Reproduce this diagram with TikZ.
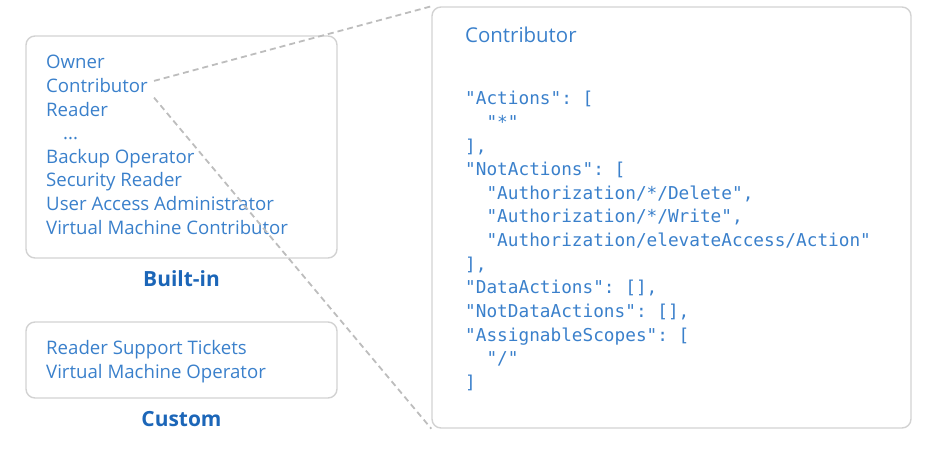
\documentclass[tikz,border=0pt]{standalone}
\usepackage{fontspec}
\setmainfont{Open Sans}
\setsansfont{Open Sans}
\setmonofont{DejaVu Sans Mono}
\usetikzlibrary{positioning}
\definecolor{roleblue}{HTML}{3A80CB}
\definecolor{labelblue}{HTML}{1C66B8}
\definecolor{framegray}{HTML}{D2D2D2}
\definecolor{dashgray}{HTML}{BDBDBD}
\newcommand{\codeindent}{\hphantom{xx}}

\begin{document}
\begin{tikzpicture}[x=1bp, y=-1bp, node distance=23.6bp,
  role/.style={anchor=base west, inner sep=0pt, text=roleblue, font=\fontsize{18.7}{22}\selectfont},
  code/.style={anchor=base west, inner sep=0pt, text=roleblue, font=\ttfamily\fontsize{17.8}{22}\selectfont},
  group box/.style={draw=framegray, line width=1.4bp, rounded corners=9bp, inner sep=0pt},
  group label/.style={anchor=base, inner sep=0pt, text=labelblue, font=\fontsize{21}{24}\selectfont\bfseries},
  link/.style={draw=dashgray, line width=1.8bp, dash pattern=on 6bp off 4bp}]
  \useasboundingbox (0,0) rectangle (927,452);

  % boxes
  \node[group box, minimum width=311bp, minimum height=222bp] (builtin) at (181.5,147) {};
  \node[group box, minimum width=311bp, minimum height=76bp] (custom) at (181.5,360) {};
  \node[group box, minimum width=479bp, minimum height=421bp] (detail) at (671.5,217.5) {};

  % built-in roles
  \node[role] (owner) at (46,69) {Owner};
  \node[below=of owner.base west, role] (contributor) {Contributor};
  \node[below=of contributor.base west, role] (reader) {Reader};
  \node[below=of reader.base west, role, xshift=17bp] (dots) {...};
  \node[below=47.2bp of reader.base west, role] (backup) {Backup Operator};
  \node[below=of backup.base west, role] (secreader) {Security Reader};
  \node[below=of secreader.base west, role] (uaa) {User Access Administrator};
  \node[below=of uaa.base west, role] (vmcontrib) {Virtual Machine Contributor};
  \node[group label] (builtinlabel) at (181.5,287) {Built-in};

  % custom roles
  \node[role] (support) at (46,355) {Reader Support Tickets};
  \node[below=of support.base west, role] (vmoperator) {Virtual Machine Operator};
  \node[group label] (customlabel) at (181.5,426) {Custom};

  % role definition
  \node[role, font=\fontsize{20.5}{24}\selectfont] (title) at (465,42.7) {Contributor};
  \node[code] (l1) at (465,105) {"Actions": [};
  \node[below=of l1.base west, code] (l2) {\codeindent"*"};
  \node[below=of l2.base west, code] (l3) {],};
  \node[below=of l3.base west, code] (l4) {"NotActions": [};
  \node[below=of l4.base west, code] (l5) {\codeindent"Authorization/*/Delete",};
  \node[below=of l5.base west, code] (l6) {\codeindent"Authorization/*/Write",};
  \node[below=of l6.base west, code] (l7) {\codeindent"Authorization/elevateAccess/Action"};
  \node[below=of l7.base west, code] (l8) {],};
  \node[below=of l8.base west, code] (l9) {"DataActions": [],};
  \node[below=of l9.base west, code] (l10) {"NotDataActions": [],};
  \node[below=of l10.base west, code] (l11) {"AssignableScopes": [};
  \node[below=of l11.base west, code] (l12) {\codeindent"/"};
  \node[below=of l12.base west, code] (l13) {]};

  % zoom lines
  \coordinate (zoomtop) at ([xshift=6bp, yshift=11.7bp]contributor.base east);
  \coordinate (zoombottom) at ([xshift=6bp, yshift=-5bp]contributor.base east);
  \draw[link] (zoomtop) -- (detail.north west);
  \draw[link] (zoombottom) -- (detail.south west);
\end{tikzpicture}
\end{document}
